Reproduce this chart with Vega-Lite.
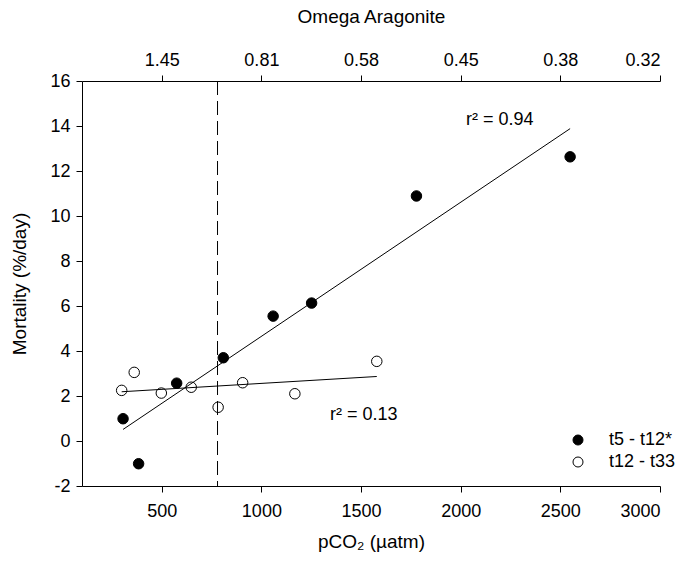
{
  "$schema": "https://vega.github.io/schema/vega-lite/v6.json",
  "width": 578,
  "height": 405,
  "autosize": "none",
  "padding": {"left": 82, "top": 81, "right": 23, "bottom": 76},
  "background": "white",
  "config": {
    "font": "Liberation Sans",
    "view": {"stroke": null},
    "axis": {
      "grid": false,
      "domainColor": "black",
      "tickColor": "black",
      "labelColor": "black",
      "titleColor": "black",
      "labelFont": "Liberation Sans",
      "titleFont": "Liberation Sans",
      "labelFontSize": 18,
      "titleFontSize": 19,
      "titleFontWeight": "normal",
      "tickSize": 6,
      "labelPadding": 6
    },
    "legend": {
      "labelFont": "Liberation Sans",
      "labelFontSize": 18,
      "labelColor": "black"
    }
  },
  "data": {
    "values": [
      {"series": "t5 - t12*", "pco2": 306, "mortality": 0.99},
      {"series": "t5 - t12*", "pco2": 384, "mortality": -1.01},
      {"series": "t5 - t12*", "pco2": 575, "mortality": 2.57},
      {"series": "t5 - t12*", "pco2": 809, "mortality": 3.70},
      {"series": "t5 - t12*", "pco2": 1059, "mortality": 5.55},
      {"series": "t5 - t12*", "pco2": 1252, "mortality": 6.13},
      {"series": "t5 - t12*", "pco2": 1778, "mortality": 10.89},
      {"series": "t5 - t12*", "pco2": 2549, "mortality": 12.63},
      {"series": "t12 - t33", "pco2": 299, "mortality": 2.25},
      {"series": "t12 - t33", "pco2": 362, "mortality": 3.05},
      {"series": "t12 - t33", "pco2": 498, "mortality": 2.13},
      {"series": "t12 - t33", "pco2": 648, "mortality": 2.39},
      {"series": "t12 - t33", "pco2": 783, "mortality": 1.50},
      {"series": "t12 - t33", "pco2": 906, "mortality": 2.59},
      {"series": "t12 - t33", "pco2": 1168, "mortality": 2.10},
      {"series": "t12 - t33", "pco2": 1579, "mortality": 3.54}
    ]
  },
  "layer": [
    {
      "mark": {"type": "point", "shape": "circle", "size": 110, "filled": false, "stroke": "black", "strokeWidth": 1, "opacity": 1},
      "encoding": {
        "x": {"field": "pco2", "type": "quantitative",
              "scale": {"domain": [100, 3000], "nice": false, "zero": false},
              "axis": {"orient": "bottom", "title": "pCO₂ (µatm)", "values": [500, 1000, 1500, 2000, 2500, 3000], "labelExpr": "'' + datum.value", "labelPadding": 10, "titlePadding": 12}},
        "y": {"field": "mortality", "type": "quantitative",
              "scale": {"domain": [-2, 16], "nice": false, "zero": false},
              "axis": {"title": "Mortality (%/day)", "values": [-2, 0, 2, 4, 6, 8, 10, 12, 14, 16], "labelExpr": "'' + datum.value", "titlePadding": 20}},
        "fill": {"field": "series", "type": "nominal",
                 "scale": {"domain": ["t5 - t12*", "t12 - t33"], "range": ["black", "white"]},
                 "legend": {"title": null, "orient": "none", "legendX": 487, "legendY": 350, "symbolType": "circle", "symbolSize": 100, "symbolStrokeColor": "black", "symbolStrokeWidth": 1, "symbolOpacity": 1, "labelOffset": 22, "rowPadding": 4, "padding": 0}}
      }
    },
    {
      "transform": [{"regression": "mortality", "on": "pco2", "groupby": ["series"]}],
      "mark": {"type": "line", "color": "black", "strokeWidth": 1},
      "encoding": {
        "x": {"field": "pco2", "type": "quantitative",
              "scale": {"domain": [100, 3000], "nice": false, "zero": false}, "axis": null},
        "y": {"field": "mortality", "type": "quantitative",
              "scale": {"domain": [-2, 16], "nice": false, "zero": false},
              "axis": {"title": "Mortality (%/day)", "values": [-2, 0, 2, 4, 6, 8, 10, 12, 14, 16], "labelExpr": "'' + datum.value", "titlePadding": 20}},
        "detail": {"field": "series", "type": "nominal"}
      }
    },
    {
      "data": {"values": [{"pco2": 780}]},
      "mark": {"type": "rule", "color": "black", "strokeWidth": 1, "strokeDash": [14, 6]},
      "encoding": {
        "x": {"field": "pco2", "type": "quantitative",
              "scale": {"domain": [100, 3000], "nice": false, "zero": false},
              "axis": {"orient": "top", "title": "Omega Aragonite", "values": [500, 1000, 1500, 2000, 2500, 3000],
                       "labelExpr": "datum.value == 500 ? '1.45' : datum.value == 1000 ? '0.81' : datum.value == 1500 ? '0.58' : datum.value == 2000 ? '0.45' : datum.value == 2500 ? '0.38' : '0.32'",
                       "titlePadding": 25}}
      }
    },
    {
      "data": {"values": [
        {"pco2": 2196, "mortality": 14.25, "label": "r² = 0.94"},
        {"pco2": 1514, "mortality": 1.14, "label": "r² = 0.13"}
      ]},
      "mark": {"type": "text", "fontSize": 18, "color": "black", "align": "center", "baseline": "middle"},
      "encoding": {
        "x": {"field": "pco2", "type": "quantitative",
              "scale": {"domain": [100, 3000], "nice": false, "zero": false}, "axis": null},
        "y": {"field": "mortality", "type": "quantitative",
              "scale": {"domain": [-2, 16], "nice": false, "zero": false},
              "axis": {"title": "Mortality (%/day)", "values": [-2, 0, 2, 4, 6, 8, 10, 12, 14, 16], "labelExpr": "'' + datum.value", "titlePadding": 20}},
        "text": {"field": "label"}
      }
    }
  ],
  "resolve": {"axis": {"x": "independent"}}
}
